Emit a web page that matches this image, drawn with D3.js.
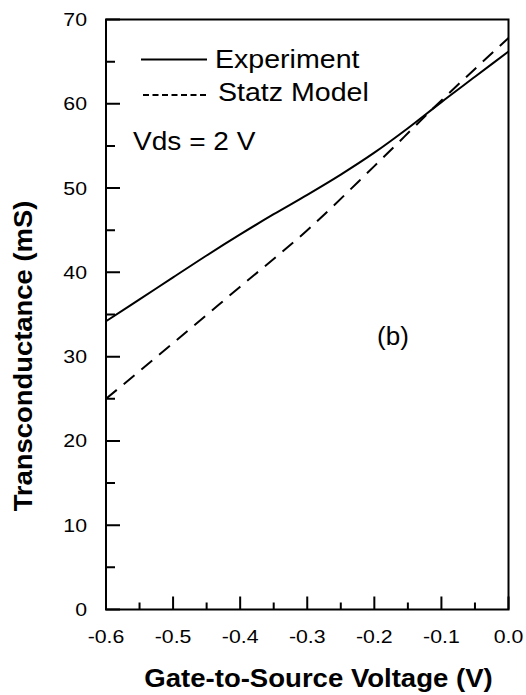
<!DOCTYPE html>
<html>
<head>
<meta charset="utf-8">
<script src="https://cdn.jsdelivr.net/npm/d3@7"></script>
<style>
  html, body { margin: 0; padding: 0; background: #fff; }
  svg { display: block; font-family: "Liberation Sans", Arial, sans-serif; }
</style>
</head>
<body>
<svg id="chart" width="526" height="695"></svg>
<script>
// values
const vgs = [-0.6, -0.55, -0.5, -0.45, -0.4, -0.35, -0.3, -0.25, -0.2, -0.15, -0.1, -0.05, 0.0]
const experiment = [34.2, 36.8, 39.4, 42.0, 44.5, 46.9, 49.2, 51.6, 54.2, 57.1, 60.2, 63.2, 66.2]
const statzV = [-0.6, -0.5, -0.4, -0.3, -0.2, -0.1, 0.0]
const statz = [25.0, 31.6, 38.3, 45.0, 52.6, 60.4, 67.8]
const xTicks = [-0.6, -0.5, -0.4, -0.3, -0.2, -0.1, 0.0]
const xTickLabels = ["-0.6", "-0.5", "-0.4", "-0.3", "-0.2", "-0.1", "0.0"]
const xMinor = [-0.55, -0.45, -0.35, -0.25, -0.15, -0.05]
const yTicks = [0, 10, 20, 30, 40, 50, 60, 70]
const yMinor = [5, 15, 25, 35, 45, 55, 65]

const svg = d3.select('#chart')
const plotLeft = 106, plotRight = 508.5, plotTop = 19.5, plotBottom = 609.5

const x = d3.scaleLinear().domain([-0.6, 0]).range([plotLeft, plotRight])
const y = d3.scaleLinear().domain([0, 70]).range([plotBottom, plotTop])

// widen text a little, the original font runs wider than Arial
const stretch = (sel, k) => {
  sel.each(function () {
    const w = this.getComputedTextLength()
    d3.select(this).attr('textLength', w * k).attr('lengthAdjust', 'spacingAndGlyphs')
  })
}

// frame
svg.append('rect')
  .attr('x', plotLeft).attr('y', plotTop)
  .attr('width', plotRight - plotLeft).attr('height', plotBottom - plotTop)
  .attr('fill', 'none').attr('stroke', '#000').attr('stroke-width', 2)

// ticks, all pointing inward, drawn as one path
const tickPath = d3.path()
xTicks.forEach(d => { tickPath.moveTo(x(d), plotBottom); tickPath.lineTo(x(d), plotBottom - 13) })
xMinor.forEach(d => { tickPath.moveTo(x(d), plotBottom); tickPath.lineTo(x(d), plotBottom - 7) })
yTicks.forEach(d => { tickPath.moveTo(plotLeft, y(d)); tickPath.lineTo(plotLeft + 14, y(d)) })
yMinor.forEach(d => { tickPath.moveTo(plotLeft, y(d)); tickPath.lineTo(plotLeft + 9, y(d)) })
svg.append('path')
  .attr('d', tickPath.toString())
  .attr('fill', 'none').attr('stroke', '#000').attr('stroke-width', 2)

// tick labels
svg.append('g').selectAll('text').data(xTicks).enter().append('text')
  .attr('x', d => x(d)).attr('y', plotBottom + 33)
  .attr('text-anchor', 'middle')
  .attr('font-size', 18.5)
  .text((d, i) => xTickLabels[i])
  .call(stretch, 1.15)

svg.append('g').selectAll('text').data(yTicks).enter().append('text')
  .attr('x', plotLeft - 19).attr('y', d => y(d))
  .attr('dy', '0.35em')
  .attr('text-anchor', 'end')
  .attr('font-size', 18.5)
  .text(d => d)
  .call(stretch, 1.15)

// curves
const line = d3.line().x(d => x(d[0])).y(d => y(d[1])).curve(d3.curveMonotoneX)

svg.append('path')
  .datum(vgs.map((v, i) => [v, experiment[i]]))
  .attr('d', line)
  .attr('fill', 'none').attr('stroke', '#000').attr('stroke-width', 2)

svg.append('path')
  .datum(statzV.map((v, i) => [v, statz[i]]))
  .attr('d', line)
  .attr('fill', 'none').attr('stroke', '#000').attr('stroke-width', 2)
  .attr('stroke-dasharray', '14,9')

// legend
svg.append('line')
  .attr('x1', 141).attr('x2', 207).attr('y1', 59.5).attr('y2', 59.5)
  .attr('stroke', '#000').attr('stroke-width', 2)
svg.append('line')
  .attr('x1', 143).attr('x2', 207).attr('y1', 95).attr('y2', 95)
  .attr('stroke', '#000').attr('stroke-width', 2)
  .attr('stroke-dasharray', '6,3.5')

svg.append('text')
  .attr('x', 215).attr('y', 68)
  .attr('font-size', 25.5)
  .text('Experiment')
  .call(stretch, 1.12)

svg.append('text')
  .attr('x', 218).attr('y', 101)
  .attr('font-size', 25.5)
  .text('Statz Model')
  .call(stretch, 1.12)

svg.append('text')
  .attr('x', 133).attr('y', 150)
  .attr('font-size', 25.5)
  .text('Vds = 2 V')
  .call(stretch, 1.1)

svg.append('text')
  .attr('x', 393).attr('y', 345)
  .attr('text-anchor', 'middle')
  .attr('font-size', 26)
  .text('(b)')

// axis titles
svg.append('text')
  .attr('x', 318.5).attr('y', 687)
  .attr('text-anchor', 'middle')
  .attr('font-size', 25.5).attr('font-weight', 'bold')
  .text('Gate-to-Source Voltage (V)')
  .call(stretch, 1.08)

svg.append('text')
  .attr('transform', 'translate(32,356) rotate(-90)')
  .attr('text-anchor', 'middle')
  .attr('font-size', 25.5).attr('font-weight', 'bold')
  .text('Transconductance (mS)')
  .call(stretch, 1.075)
</script>
</body>
</html>
